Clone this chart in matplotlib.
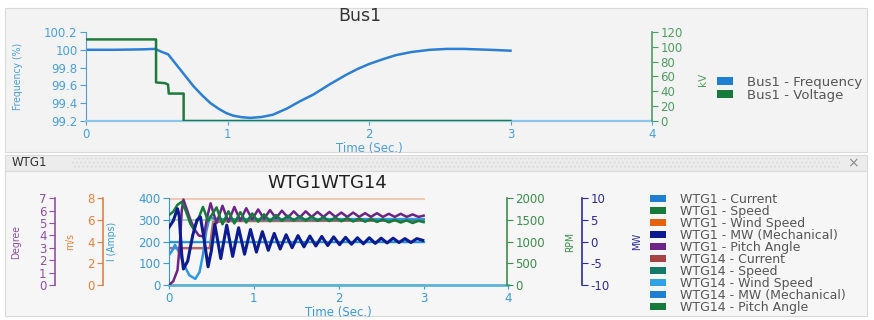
import matplotlib
matplotlib.use('Agg')
import matplotlib.pyplot as plt
import matplotlib.ticker as ticker
from matplotlib.patches import Rectangle, Patch

plt.rcParams['font.family'] = ['DejaVu Sans']
plt.rcParams['axes.unicode_minus'] = False

# ---------------- Bus1 data ----------------
bus_t = [0.0, 0.2, 0.4, 0.49, 0.53, 0.58, 0.62, 0.66, 0.70, 0.76, 0.82, 0.88, 0.94, 0.99, 1.04,
         1.10, 1.16, 1.24, 1.32, 1.42, 1.51, 1.61, 1.72, 1.84, 1.92, 2.00, 2.10, 2.19, 2.30,
         2.43, 2.55, 2.67, 2.85, 3.0]
bus_freq = [100.0, 100.0, 100.005, 100.01, 99.98, 99.95, 99.87, 99.79, 99.71, 99.59, 99.49,
            99.40, 99.335, 99.29, 99.26, 99.243, 99.235, 99.245, 99.27, 99.34, 99.42, 99.50,
            99.61, 99.72, 99.785, 99.84, 99.895, 99.94, 99.975, 100.0, 100.01, 100.01, 100.0,
            99.99]
volt_t = [0.0, 0.495, 0.495, 0.56, 0.58, 0.585, 0.69, 0.69, 3.0]
volt_kv = [110, 110, 52, 51, 49, 37, 37, 0, 0]
bus_labels = ['Bus1 - Frequency', 'Bus1 - Voltage']

# ---------------- WTG1 / WTG14 data ----------------
# WTG1 current (Amps)
cur_t = [0.00, 0.04, 0.07, 0.12, 0.18, 0.24, 0.31, 0.36, 0.40, 0.44, 0.48, 0.53, 0.65, 1.0, 2.0, 3.0]
cur_a = [138, 160, 185, 150, 90, 45, 28, 60, 140, 250, 315, 306, 303, 304, 304, 304]
# WTG14 current (Amps)
cur14_t = [0.0, 0.48, 0.52, 0.70, 3.0]
cur14_a = [170, 170, 290, 295, 297]
# wind speeds (m/s)
wind_t = [0.0, 3.0]
wind1 = [7.97, 7.97]
wind14 = [4.0, 4.0]
# WTG1 MW (mechanical)
mw_t = [0.00, 0.05, 0.10, 0.12, 0.15, 0.17, 0.22, 0.28, 0.33, 0.37, 0.41, 0.46, 0.50,
        0.54, 0.61, 0.68, 0.75, 0.82, 0.89, 0.96, 1.03, 1.10, 1.17, 1.24, 1.31, 1.38,
        1.45, 1.52, 1.59, 1.66, 1.73, 1.80, 1.87, 1.94, 2.01, 2.08, 2.15, 2.22, 2.29,
        2.36, 2.43, 2.50, 2.57, 2.64, 2.71, 2.78, 2.85, 2.92, 2.99]
mw_v = [3.3, 4.8, 7.6, 6.0, -3.0, -6.3, -4.5, 1.5, 5.0, 5.7, 1.0, -5.8, -2.0,
        4.0, -3.9, 3.8, -3.4, 3.2, -2.9, 2.8, -2.4, 2.3, -2.0, 1.9, -1.7, 1.6,
        -1.4, 1.4, -1.2, 1.3, -1.0, 1.2, -0.9, 1.1, -0.7, 1.0, -0.6, 0.9, -0.5,
        0.9, -0.4, 0.8, -0.3, 0.8, -0.2, 0.7, -0.2, 0.7, 0.3]
mw14 = [0.0, 0.0]
# WTG1 pitch angle (Degree)
deg_t = [0.00, 0.05, 0.10, 0.13, 0.15, 0.17, 0.20, 0.25, 0.30, 0.35, 0.41, 0.45, 0.49,
         0.56, 0.63, 0.70, 0.77, 0.84, 0.91, 0.98, 1.05, 1.12, 1.19, 1.26, 1.33, 1.40,
         1.47, 1.54, 1.61, 1.68, 1.75, 1.82, 1.89, 1.96, 2.03, 2.10, 2.17, 2.24, 2.31,
         2.38, 2.45, 2.52, 2.59, 2.66, 2.73, 2.80, 2.87, 2.94, 3.00]
deg_v = [0.0, 0.3, 1.2, 3.5, 6.0, 6.9, 6.3, 5.3, 4.5, 4.0, 3.9, 5.5, 6.6,
         5.0, 6.4, 5.1, 6.3, 5.2, 6.2, 5.3, 6.1, 5.35, 6.05, 5.4, 6.0, 5.45,
         5.95, 5.45, 5.95, 5.5, 5.9, 5.5, 5.9, 5.5, 5.85, 5.5, 5.85, 5.5, 5.8,
         5.5, 5.8, 5.5, 5.75, 5.5, 5.75, 5.5, 5.7, 5.5, 5.6]
pitch14 = [0.0, 0.0]
# WTG1 speed (RPM)
spd_t = [0.00, 0.05, 0.10, 0.15, 0.20, 0.25, 0.29, 0.35, 0.40, 0.46,
         0.56, 0.63, 0.70, 0.77, 0.84, 0.91, 0.98, 1.05, 1.12, 1.19, 1.26, 1.33, 1.40,
         1.47, 1.54, 1.61, 1.68, 1.75, 1.82, 1.89, 1.96, 2.03, 2.10, 2.17, 2.24, 2.31,
         2.38, 2.45, 2.52, 2.59, 2.66, 2.73, 2.80, 2.87, 2.94, 3.00]
spd_v = [1615, 1690, 1850, 1920, 1700, 1420, 1290, 1550, 1800, 1480,
         1790, 1400, 1700, 1420, 1680, 1440, 1650, 1460, 1630, 1470, 1615, 1480, 1600,
         1485, 1590, 1485, 1580, 1480, 1565, 1475, 1555, 1470, 1545, 1465, 1535, 1460,
         1520, 1455, 1510, 1445, 1500, 1440, 1490, 1430, 1480, 1450]
spd14 = [1500, 1490]

wtg_labels = ['WTG1 - Current', 'WTG1 - Speed', 'WTG1 - Wind Speed', 'WTG1 - MW (Mechanical)',
              'WTG1 - Pitch Angle', 'WTG14 - Current', 'WTG14 - Speed', 'WTG14 - Wind Speed',
              'WTG14 - MW (Mechanical)', 'WTG14 - Pitch Angle']
wtg_colors = ['#1f7fd0', '#167a3a', '#e5620f', '#0c1b8f', '#6d2487',
              '#a84444', '#137a68', '#2fa3e3', '#1f7fd0', '#167a3a']

W, H = 874, 320
fig = plt.figure(figsize=(W / 100, H / 100), dpi=100)
fig.patch.set_facecolor('white')


def fx(px):
    return px / W


def fy(py):
    return 1 - py / H


# panels (behind the axes)
fig.patches.append(Rectangle((fx(5), fy(152)), fx(862), 144 / H, transform=fig.transFigure,
                             facecolor='#f3f3f3', edgecolor='#d9d9d9', lw=0.8, zorder=-5))
fig.patches.append(Rectangle((fx(5), fy(171)), fx(862), 16 / H, transform=fig.transFigure,
                             facecolor='#ececec', edgecolor='#d9d9d9', lw=0.8, zorder=-5))
fig.patches.append(Rectangle((fx(72), fy(168)), fx(768), 10 / H, transform=fig.transFigure,
                             facecolor='none', edgecolor='#dcdcdc', hatch='....', lw=0, zorder=-4))
fig.patches.append(Rectangle((fx(5), fy(316)), fx(862), 145 / H, transform=fig.transFigure,
                             facecolor='#f6f6f6', edgecolor='#d9d9d9', lw=0.8, zorder=-5))
fig.text(fx(12), fy(163), 'WTG1', fontsize=8.5, color='#333333', va='center')
fig.text(fx(853), fy(163), '×', fontsize=10, color='#888888', va='center', ha='center')

# ---------------- Bus1 chart ----------------
c_freq_ax = '#4a9fdc'
c_kv_ax = '#4f9c60'
ax1 = fig.add_axes([fx(86), fy(121), fx(566), 89 / H])
ax1.set_facecolor('none')
ax1.plot(bus_t, bus_freq, color='#2b7fd4', lw=1.8, solid_joinstyle='round')
ax1.set_xlim(0, 4)
ax1.set_ylim(99.2, 100.2)
ax1.set_yticks([99.2, 99.4, 99.6, 99.8, 100.0, 100.2])
ax1.yaxis.set_major_formatter(ticker.FuncFormatter(lambda v, p: '%g' % round(v, 1)))
ax1.set_xticks([0, 1, 2, 3, 4])
for s in ['top', 'right']:
    ax1.spines[s].set_visible(False)
ax1.spines['left'].set_color(c_freq_ax)
ax1.spines['bottom'].set_color('#8cc6ec')
ax1.spines['bottom'].set_linewidth(1.6)
ax1.tick_params(axis='y', colors=c_freq_ax, labelsize=8.5, length=4, pad=2)
ax1.tick_params(axis='x', colors=c_freq_ax, labelsize=8.5, length=3, pad=2)
ax1.set_ylabel('Frequency (%)', color=c_freq_ax, fontsize=7.5, fontstretch='condensed')
ax1.yaxis.set_label_coords((23 - 86) / 566, 0.5)
ax1.set_xlabel('Time (Sec.)', color=c_freq_ax, fontsize=8.5, labelpad=1)

ax1k = ax1.twinx()
ax1k.plot(volt_t, volt_kv, color='#1e7b3c', lw=1.8)
ax1k.set_ylim(0, 120)
ax1k.set_yticks(range(0, 121, 20))
for s in ['top', 'left', 'bottom']:
    ax1k.spines[s].set_visible(False)
ax1k.spines['right'].set_color(c_kv_ax)
ax1k.spines['right'].set_linewidth(1.2)
ax1k.tick_params(axis='y', colors=c_kv_ax, labelsize=8.5, length=4, pad=2)
ax1k.set_ylabel('kV', color=c_kv_ax, fontsize=7.5)
ax1k.yaxis.set_label_coords((698 - 86) / 566, 0.47)
fig.text(fx(360), fy(16), 'Bus1', fontsize=12.5, color='#333333', ha='center', va='center')

h1 = [Patch(facecolor=c, edgecolor='none') for c in ['#1f7fd0', '#167a3a']]
fig.legend(h1, bus_labels, loc='upper left', bbox_to_anchor=(fx(717), fy(76)), frameon=False,
           fontsize=9.5, labelcolor='#555555', handlelength=1.2, handleheight=0.55,
           handletextpad=1.1, labelspacing=0.0, borderpad=0, borderaxespad=0)

# ---------------- WTG1WTG14 chart ----------------
c_amp = '#3a9ad9'
c_deg = '#9050a8'
c_ms = '#e8803a'
c_rpm = '#3a8f4a'
c_mw = '#2a2aa0'
aw = 339.5
ax2 = fig.add_axes([fx(169), fy(285), fx(aw), 86.7 / H])
ax2.set_facecolor('none')
ax2.set_xlim(0, 4)
ax2.set_ylim(0, 400)
ax2.set_xticks([0, 1, 2, 3, 4])
ax2.set_yticks([0, 100, 200, 300, 400])
for s in ['top', 'right']:
    ax2.spines[s].set_visible(False)
ax2.spines['left'].set_color(c_amp)
ax2.spines['bottom'].set_color('#5db4d8')
ax2.spines['bottom'].set_linewidth(2)
ax2.tick_params(axis='y', colors=c_amp, labelsize=8.5, length=4, pad=2)
ax2.tick_params(axis='x', colors=c_amp, labelsize=8.5, length=3, pad=2)
ax2.set_ylabel('I (Amps)', color=c_amp, fontsize=7.5, fontstretch='condensed')
ax2.yaxis.set_label_coords((117 - 169) / aw, 0.5)
ax2.set_xlabel('Time (Sec.)', color=c_amp, fontsize=8.5, labelpad=1)


def side_axis(color, ylim, yticks, side, pos, label, label_x):
    a = ax2.twinx()
    a.set_ylim(*ylim)
    a.set_yticks(yticks)
    for s in ['top', 'bottom', 'left', 'right']:
        a.spines[s].set_visible(False)
    a.spines[side].set_visible(True)
    a.spines[side].set_position(('axes', pos))
    a.spines[side].set_color(color)
    a.spines[side].set_linewidth(1.2)
    a.yaxis.set_ticks_position(side)
    a.yaxis.set_label_position(side)
    a.tick_params(axis='y', colors=color, labelsize=8.5, length=4, pad=2)
    a.set_ylabel(label, color=color, fontsize=7.5, fontstretch='condensed')
    a.yaxis.set_label_coords((label_x - 169) / aw, 0.5)
    return a


ax_ms = side_axis(c_ms, (0, 8), [0, 2, 4, 6, 8], 'left', (103 - 169) / aw, 'm/s', 75)
ax_deg = side_axis(c_deg, (0, 7), list(range(8)), 'left', (55 - 169) / aw, 'Degree', 21)
ax_rpm = side_axis(c_rpm, (0, 2000), [0, 500, 1000, 1500, 2000], 'right', (507 - 169) / aw, 'RPM', 565)
ax_mw = side_axis(c_mw, (-10, 10), [-10, -5, 0, 5, 10], 'right', (582 - 169) / aw, 'MW', 632)

# series
ax_ms.plot(wind_t, wind1, color=wtg_colors[2], lw=1.5, alpha=0.3)
ax_ms.plot(wind_t, wind14, color=wtg_colors[7], lw=1.6)
ax_mw.plot(wind_t, mw14, color=wtg_colors[8], lw=1.0, alpha=0.6)
ax_deg.plot(wind_t, pitch14, color=wtg_colors[9], lw=1.0, alpha=0.4)
ax2.plot(cur14_t, cur14_a, color=wtg_colors[5], lw=1.8, alpha=0.8)
ax2.plot(cur_t, cur_a, color='#2f98e0', lw=1.8, solid_joinstyle='round')
ax_rpm.plot(wind_t, spd14, color=wtg_colors[6], lw=1.0, alpha=0.5)
ax_rpm.plot(spd_t, spd_v, color=wtg_colors[1], lw=1.8, solid_joinstyle='round')
ax_deg.plot(deg_t, deg_v, color=wtg_colors[4], lw=1.8, solid_joinstyle='round')
ax_mw.plot(mw_t, mw_v, color=wtg_colors[3], lw=2.2, solid_joinstyle='round')

fig.text(fx(327), fy(183), 'WTG1WTG14', fontsize=13, color='#222222', ha='center', va='center')

h2 = [Patch(facecolor=c, edgecolor='none') for c in wtg_colors]
fig.legend(h2, wtg_labels, loc='upper left', bbox_to_anchor=(fx(650), fy(193)), frameon=False,
           fontsize=9, labelcolor='#555555', handlelength=1.3, handleheight=0.55,
           handletextpad=1.1, labelspacing=-0.08, borderpad=0, borderaxespad=0)

fig.savefig('out.png', dpi=100, facecolor='white')
